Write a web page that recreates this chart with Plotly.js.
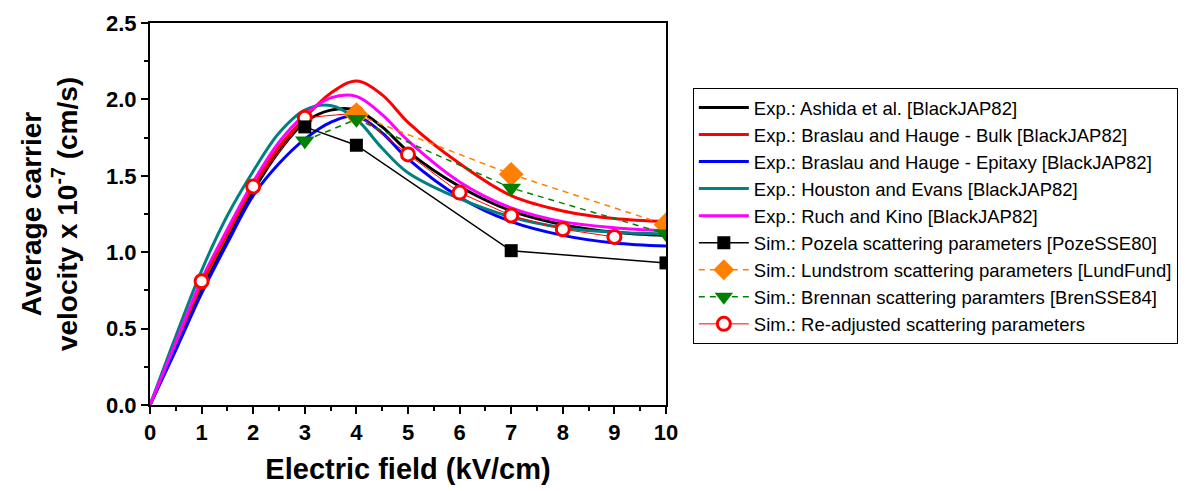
<!DOCTYPE html>
<html>
<head>
<meta charset="utf-8">
<script src="https://cdn.plot.ly/plotly-3.0.1.min.js"></script>
<style>html,body{margin:0;padding:0;background:#fff;}#chart{width:1190px;height:491px;}</style>
</head>
<body>
<div id="chart"></div>
<script>
// Experimental curves
const xExp = [0, 0.5, 1, 1.5, 2, 2.5, 3, 3.5, 4, 4.5, 5, 6, 7, 8, 9, 10];
const ashida   = [0, 0.37, 0.75, 1.08, 1.40, 1.66, 1.85, 1.93, 1.93, 1.82, 1.66, 1.43, 1.27, 1.18, 1.13, 1.11];
const bulk     = [0, 0.40, 0.79, 1.12, 1.43, 1.69, 1.88, 2.04, 2.12, 2.03, 1.85, 1.58, 1.37, 1.27, 1.22, 1.20];
const epitaxy  = [0, 0.36, 0.73, 1.06, 1.37, 1.58, 1.74, 1.85, 1.89, 1.78, 1.61, 1.36, 1.20, 1.11, 1.06, 1.04];
const houston  = [0, 0.45, 0.88, 1.24, 1.53, 1.78, 1.93, 1.96, 1.87, 1.68, 1.52, 1.35, 1.23, 1.16, 1.13, 1.12];
const ruch     = [0, 0.41, 0.82, 1.15, 1.46, 1.72, 1.90, 2.01, 2.02, 1.90, 1.73, 1.46, 1.29, 1.20, 1.16, 1.14];

// Simulations
const xPozela = [3, 4, 7, 10];
const pozela  = [1.82, 1.70, 1.01, 0.93];
const xLund   = [4, 7, 10];
const lund    = [1.90, 1.51, 1.18];
const xBren   = [3, 4, 7, 10];
const bren    = [1.73, 1.87, 1.42, 1.12];
const xReadj  = [1, 2, 3, 4, 5, 6, 7, 8, 9];
const readj   = [0.81, 1.43, 1.88, 1.91, 1.64, 1.39, 1.24, 1.15, 1.10];

const names = [
  'Exp.: Ashida et al. [BlackJAP82]',
  'Exp.: Braslau and Hauge - Bulk [BlackJAP82]',
  'Exp.: Braslau and Hauge - Epitaxy [BlackJAP82]',
  'Exp.: Houston and Evans [BlackJAP82]',
  'Exp.: Ruch and Kino [BlackJAP82]',
  'Sim.: Pozela scattering parameters [PozeSSE80]',
  'Sim.: Lundstrom scattering parameters [LundFund]',
  'Sim.: Brennan scattering paramters [BrenSSE84]',
  'Sim.: Re-adjusted scattering parameters'
];

function curve(y, name, color, rank) {
  return {x: xExp, y: y, name: name, mode: 'lines', type: 'scatter', legendrank: rank,
          line: {color: color, width: 3, shape: 'spline', smoothing: 1}};
}

const traces = [
  curve(ashida, names[0], '#000000', 1),
  curve(bulk, names[1], '#ff0000', 2),
  curve(epitaxy, names[2], '#0000ff', 3),
  curve(houston, names[3], '#008080', 4),
  curve(ruch, names[4], '#ff00ff', 5),
  {x: xReadj, y: readj, name: names[8], mode: 'lines+markers', type: 'scatter', legendrank: 9,
   line: {color: '#ff0000', width: 1},
   marker: {symbol: 'circle', size: 13, color: '#ffffff', line: {color: '#ff0000', width: 3}}},
  {x: xPozela, y: pozela, name: names[5], mode: 'lines+markers', type: 'scatter', legendrank: 6,
   line: {color: '#000000', width: 1.5},
   marker: {symbol: 'square', size: 13, color: '#000000'}},
  {x: xLund, y: lund, name: names[6], mode: 'lines+markers', type: 'scatter', legendrank: 7,
   line: {color: '#ff8000', width: 1.5, dash: '6px,5px'},
   marker: {symbol: 'diamond', size: 19, color: '#ff8000'}},
  {x: xBren, y: bren, name: names[7], mode: 'lines+markers', type: 'scatter', legendrank: 8,
   line: {color: '#008000', width: 1.5, dash: '6px,5px'},
   marker: {symbol: 'triangle-down', size: 17, color: '#008000'}}
];

const font = 'Arial, "Liberation Sans", Helvetica, sans-serif';

const layout = {
  width: 1190, height: 491,
  margin: {l: 150, r: 522, t: 23, b: 86},
  paper_bgcolor: '#ffffff', plot_bgcolor: '#ffffff',
  font: {family: font, color: '#000'},
  showlegend: true,
  legend: {
    x: 1.052, y: 0.83, xanchor: 'left', yanchor: 'top',
    bordercolor: '#000', borderwidth: 1, bgcolor: '#fff',
    font: {family: font, size: 18.5, color: '#000'},
    itemwidth: 50, tracegroupgap: 0, traceorder: 'normal'
  },
  xaxis: {
    range: [0, 10], dtick: 1, tick0: 0,
    ticks: 'outside', ticklen: 7, tickwidth: 2, tickcolor: '#000',
    showline: true, linecolor: '#000', linewidth: 2, mirror: true,
    showgrid: false, zeroline: false,
    minor: {dtick: 0.5, ticks: 'outside', ticklen: 4, tickwidth: 2, tickcolor: '#000'},
    tickfont: {family: font, size: 22, color: '#000', weight: 'bold'},
    title: {text: '<b>Electric field (kV/cm)</b>', font: {family: font, size: 29, color: '#000'}, standoff: 14}
  },
  yaxis: {
    range: [0, 2.5], dtick: 0.5, tick0: 0, tickformat: '.1f',
    ticks: 'outside', ticklen: 7, tickwidth: 2, tickcolor: '#000',
    showline: true, linecolor: '#000', linewidth: 2, mirror: true,
    showgrid: false, zeroline: false,
    minor: {dtick: 0.25, ticks: 'outside', ticklen: 4, tickwidth: 2, tickcolor: '#000'},
    tickfont: {family: font, size: 22, color: '#000', weight: 'bold'},
    title: {text: '<b>Average carrier<br>velocity x 10<sup>-7</sup> (cm/s)</b>', font: {family: font, size: 28, color: '#000'}, standoff: 20}
  }
};

Plotly.newPlot('chart', traces, layout, {displayModeBar: false, staticPlot: true});
</script>
</body>
</html>
